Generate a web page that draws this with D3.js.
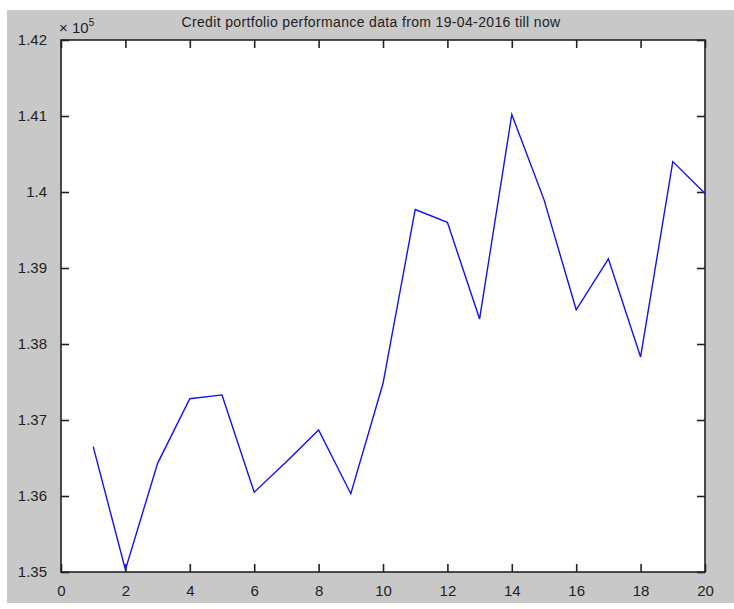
<!DOCTYPE html>
<html>
<head>
<meta charset="utf-8">
<script src="https://cdn.jsdelivr.net/npm/d3@7"></script>
<style>
  body { margin: 0; background: #fff; }
  text { font-family: "Liberation Sans", Arial, sans-serif; fill: #222; }
</style>
</head>
<body>
<svg id="chart" width="734" height="609"></svg>
<script>
const width = 734, height = 609;
const margin = {top: 40, right: 29, bottom: 37, left: 61};

// data (values in units of 1e5)
const days = [1, 2, 3, 4, 5, 6, 7, 8, 9, 10, 11, 12, 13, 14, 15, 16, 17, 18, 19, 20];
const values = [1.3665, 1.3503, 1.3643, 1.3728, 1.3733, 1.3605, 1.3645, 1.3687, 1.3603, 1.3748,
                1.3977, 1.3960, 1.3833, 1.4102, 1.3990, 1.3845, 1.3912, 1.3783, 1.4040, 1.3998];
const xTicks = [0, 2, 4, 6, 8, 10, 12, 14, 16, 18, 20];
const yTicks = [1.35, 1.36, 1.37, 1.38, 1.39, 1.40, 1.41, 1.42];
const title = "Credit portfolio performance data from 19-04-2016 till now";

const svg = d3.select("#chart");

// grey figure background
svg.append("rect")
    .attr("x", 7).attr("y", 10)
    .attr("width", width - 7).attr("height", 593)
    .attr("fill", "#c8c8c8");

const iw = width - margin.left - margin.right;
const ih = height - margin.top - margin.bottom;

const g = svg.append("g")
    .attr("transform", `translate(${margin.left},${margin.top})`);

const x = d3.scaleLinear().domain([0, 20]).range([0, iw]);
const y = d3.scaleLinear().domain([1.35, 1.42]).range([ih, 0]);

g.append("rect")
    .attr("width", iw).attr("height", ih)
    .attr("fill", "#fff");

// inward ticks, matlab style
const tickLen = 8;
const axisStyle = sel => {
    sel.select(".domain").remove();
    sel.selectAll("line").attr("stroke", "#222").attr("stroke-width", 1.6);
    sel.selectAll("text").attr("font-size", 15).attr("fill", "#222")
        .style("font-family", "'Liberation Sans', Arial, sans-serif");
};

g.append("g")
    .attr("transform", `translate(0,${ih})`)
    .call(d3.axisBottom(x).tickValues(xTicks).tickSize(-tickLen).tickPadding(13).tickFormat(d3.format("d")))
    .call(axisStyle);
g.append("g")
    .call(d3.axisTop(x).tickValues(xTicks).tickSize(-tickLen).tickFormat(""))
    .call(axisStyle);
g.append("g")
    .call(d3.axisLeft(y).tickValues(yTicks).tickSize(-tickLen).tickPadding(14)
        .tickFormat(d => d3.format(".2f")(d).replace(/0$/, "")))
    .call(axisStyle);
g.append("g")
    .attr("transform", `translate(${iw},0)`)
    .call(d3.axisRight(y).tickValues(yTicks).tickSize(-tickLen).tickFormat(""))
    .call(axisStyle);

// box
g.append("rect")
    .attr("width", iw).attr("height", ih)
    .attr("fill", "none")
    .attr("stroke", "#222")
    .attr("stroke-width", 1.6);

// series
const line = d3.line()
    .x((d, i) => x(days[i]))
    .y(d => y(d));

g.append("path")
    .datum(values)
    .attr("fill", "none")
    .attr("stroke", "#1010ff")
    .attr("stroke-width", 1.4)
    .attr("d", line);

// exponent label
const ex = svg.append("text")
    .attr("x", margin.left - 2)
    .attr("y", margin.top - 7)
    .attr("font-size", 15);
ex.append("tspan").text("\u00d7 10");
ex.append("tspan").attr("dy", -7).attr("font-size", 10).text("5");

// title
svg.append("text")
    .attr("x", 371)
    .attr("y", 27)
    .attr("text-anchor", "middle")
    .attr("font-size", 14)
    .attr("letter-spacing", 0.35)
    .text(title);
</script>
</body>
</html>
